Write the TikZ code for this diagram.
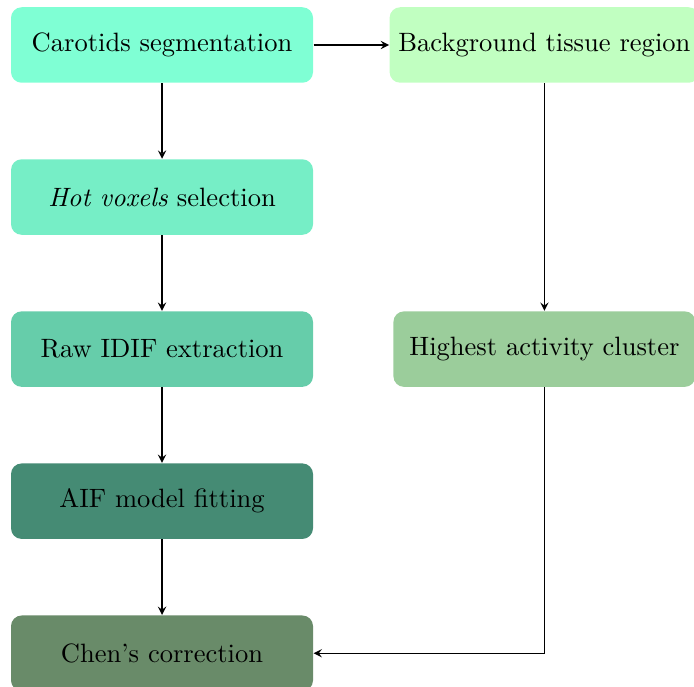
\documentclass[tikz,border=0pt]{standalone}
\usepackage{tikz}
\usetikzlibrary{positioning}

\definecolor{aqua1}{HTML}{7FFFD4}
\definecolor{aqua2}{HTML}{76EEC6}
\definecolor{aqua3}{HTML}{66CDAA}
\definecolor{aqua4}{HTML}{458B74}
\definecolor{sea1}{HTML}{C1FFC1}
\definecolor{sea3}{HTML}{9BCD9B}
\definecolor{sea4}{HTML}{698B69}

\begin{document}
\begin{tikzpicture}[
		node distance=1cm,
		block/.style={rounded corners, minimum width=4cm, minimum height=1cm, align=center},
		>=stealth
	]
	\useasboundingbox (-2.146,0.596) rectangle (7.046,-8.503);

	\node [block, fill=aqua1] (carotids) at (0,0) {Carotids segmentation};
	\node [block, fill=aqua2, below=of carotids] (hotvox) {\textit{Hot voxels} selection};
	\node [block, fill=aqua3, below=of hotvox] (rawidif) {Raw IDIF extraction};
	\node [block, fill=aqua4, below=of rawidif] (aiffit) {AIF model fitting};
	\node [block, fill=sea4, below=of aiffit] (chen) {Chen's correction};

	\node [block, fill=sea1, right=of carotids] (bgtissue) {Background tissue region};
	\node [block, fill=sea3] (hotclust) at (bgtissue |- rawidif) {Highest activity cluster};

	\begin{scope}[->]
		\draw (carotids) -- (hotvox);
		\draw (hotvox) -- (rawidif);
		\draw (rawidif) -- (aiffit);
		\draw (aiffit) -- (chen);
		\draw (carotids) -- (bgtissue);
		\draw (bgtissue) -- (hotclust);
		\draw (hotclust) |- (chen);
	\end{scope}
\end{tikzpicture}
\end{document}
